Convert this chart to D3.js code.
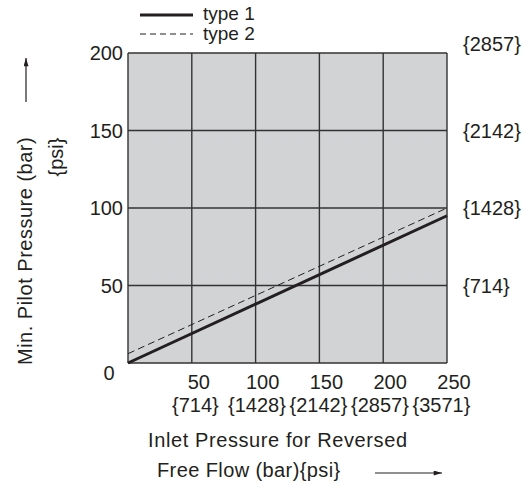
<!DOCTYPE html>
<html>
<head>
<meta charset="utf-8">
<script src="https://cdn.jsdelivr.net/npm/d3@7"></script>
<style>
  body { margin: 0; background: #fff; }
  text { font-family: "Liberation Sans", Arial, sans-serif; fill: #231f20; }
</style>
</head>
<body>
<div id="chart"></div>
<script>
// values
var xTicks = [50, 100, 150, 200, 250];
var xPsi = ["{714}", "{1428}", "{2142}", "{2857}", "{3571}"];
var yTicks = [0, 50, 100, 150, 200];
var yPsi = [null, "{714}", "{1428}", "{2142}", "{2857}"];
var type1 = [[0, 0], [250, 95]];
var type2 = [[0, 6], [250, 100]];

var width = 529, height = 486;
var margin = { top: 53, right: 82, bottom: 123, left: 128 };
var ink = "#231f20";
var fs = 20;

var svg = d3.select("#chart").append("svg")
  .attr("width", width)
  .attr("height", height);

var x = d3.scaleLinear().domain([0, 250]).range([margin.left, width - margin.right]);
var y = d3.scaleLinear().domain([0, 200]).range([height - margin.bottom, margin.top]);

// grey plot area
svg.append("rect")
  .attr("x", x(0)).attr("y", y(200))
  .attr("width", x(250) - x(0)).attr("height", y(0) - y(200))
  .attr("fill", "#d1d3d4");

// grid
svg.selectAll("line.vg").data([0].concat(xTicks)).enter().append("line")
  .attr("x1", d => x(d)).attr("x2", d => x(d))
  .attr("y1", y(0)).attr("y2", y(200))
  .attr("stroke", "#333").attr("stroke-width", 1.4);
svg.selectAll("line.hg").data(yTicks).enter().append("line")
  .attr("x1", x(0)).attr("x2", x(250))
  .attr("y1", d => y(d)).attr("y2", d => y(d))
  .attr("stroke", "#333").attr("stroke-width", 1.4);

// series
var line = d3.line().x(d => x(d[0])).y(d => y(d[1]));
svg.append("path").attr("d", line(type2))
  .attr("fill", "none").attr("stroke", ink).attr("stroke-width", 1)
  .attr("stroke-dasharray", "7,4");
svg.append("path").attr("d", line(type1))
  .attr("fill", "none").attr("stroke", ink).attr("stroke-width", 3);

// left tick labels
svg.selectAll("text.yl").data(yTicks.slice(1)).enter().append("text")
  .attr("x", x(0) - 5).attr("y", d => y(d) + 7)
  .attr("text-anchor", "end").attr("font-size", fs)
  .text(d => d);
svg.append("text")
  .attr("x", x(0) - 19).attr("y", y(0) + 17)
  .attr("text-anchor", "middle").attr("font-size", fs)
  .text(0);

// right psi labels (top one sits a little higher)
svg.selectAll("text.yr").data(yTicks.filter((d, i) => yPsi[i])).enter().append("text")
  .attr("x", x(250) + 16).attr("y", d => y(d) + (d === 200 ? -2 : 7))
  .attr("font-size", fs)
  .text(d => yPsi[yTicks.indexOf(d)]);

// bottom labels
svg.selectAll("text.xl").data(xTicks).enter().append("text")
  .attr("x", d => x(d) + 7).attr("y", y(0) + 26)
  .attr("text-anchor", "middle").attr("font-size", fs)
  .text(d => d);
// psi labels are packed a little tighter than the grid
svg.selectAll("text.xp").data(xTicks).enter().append("text")
  .attr("x", (d, i) => x(150) - 1 + (i - 2) * 61.5).attr("y", y(0) + 49)
  .attr("text-anchor", "middle").attr("font-size", fs)
  .text((d, i) => xPsi[i]);

// axis titles
svg.append("text")
  .attr("x", 148).attr("y", 447)
  .attr("font-size", fs).attr("letter-spacing", 0.6)
  .text("Inlet Pressure for Reversed");
svg.append("text")
  .attr("x", 157).attr("y", 477)
  .attr("font-size", fs).attr("letter-spacing", 0.4)
  .text("Free Flow (bar){psi}");

svg.append("text")
  .attr("transform", "translate(32,365) rotate(-90)")
  .attr("font-size", fs).attr("letter-spacing", 0.5)
  .text("Min. Pilot Pressure (bar)");
svg.append("text")
  .attr("transform", "translate(63,157) rotate(-90)")
  .attr("text-anchor", "middle").attr("font-size", fs)
  .text("{psi}");

// arrows
svg.append("defs").append("marker")
  .attr("id", "ah").attr("viewBox", "0 0 10 6")
  .attr("refX", 10).attr("refY", 3)
  .attr("markerWidth", 9).attr("markerHeight", 5)
  .attr("markerUnits", "userSpaceOnUse")
  .attr("orient", "auto")
  .append("path").attr("d", "M0,0L10,3L0,6Z").attr("fill", ink);
svg.append("line")
  .attr("x1", 26).attr("x2", 26).attr("y1", 102).attr("y2", 58)
  .attr("stroke", ink).attr("stroke-width", 1.2).attr("marker-end", "url(#ah)");
svg.append("line")
  .attr("x1", 375).attr("x2", 442).attr("y1", 473).attr("y2", 473)
  .attr("stroke", ink).attr("stroke-width", 1.2).attr("marker-end", "url(#ah)");

// legend
var legend = [{ name: "type 1", w: 3, dash: null, y: 15, ty: 20 }, { name: "type 2", w: 1, dash: "6,4", y: 34, ty: 40 }];
var lg = svg.selectAll("g.lg").data(legend).enter().append("g");
lg.append("line")
  .attr("x1", 140).attr("x2", 193)
  .attr("y1", d => d.y).attr("y2", d => d.y)
  .attr("stroke", ink).attr("stroke-width", d => d.w)
  .attr("stroke-dasharray", d => d.dash);
lg.append("text")
  .attr("x", 203).attr("y", d => d.ty)
  .attr("font-size", 19)
  .text(d => d.name);
</script>
</body>
</html>
